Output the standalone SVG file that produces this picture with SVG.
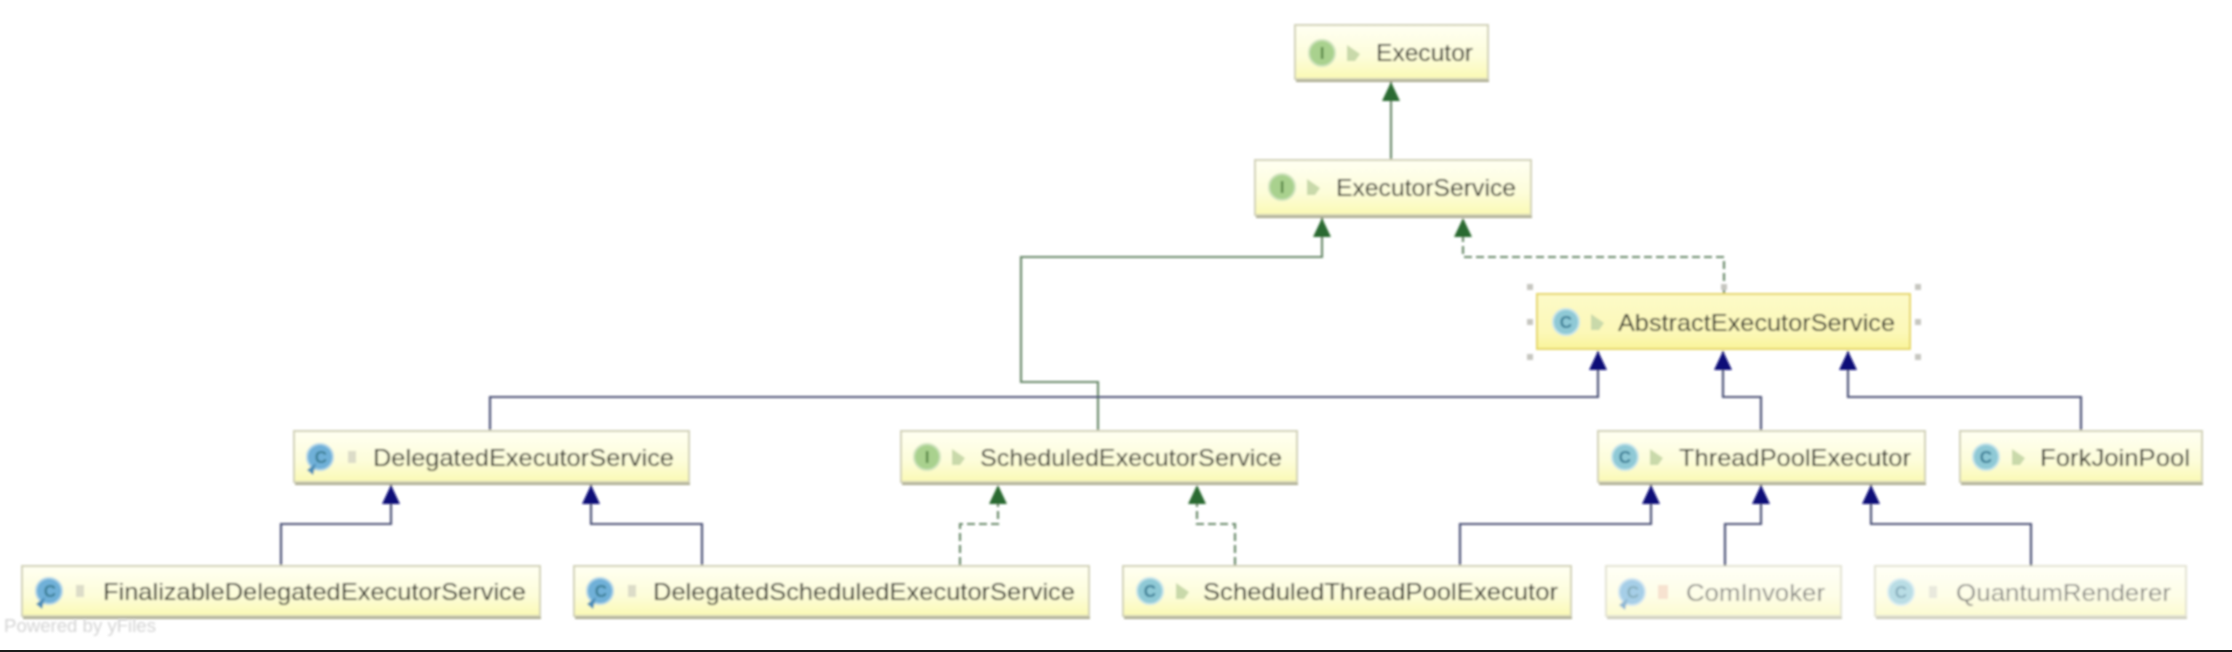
<svg xmlns="http://www.w3.org/2000/svg" width="2232" height="652" viewBox="0 0 2232 652">
<style>
.box{fill:url(#nodeFill);stroke:#d2d2b8;stroke-width:2}
.shadow{fill:#a8a88c}
.sel{fill:url(#selFill);stroke:#e6d768;stroke-width:2}
.label{font-family:"Liberation Sans",Arial,sans-serif;font-size:24px;fill:#34342a}
.wm{font-family:"Liberation Sans",Arial,sans-serif;font-size:19px;fill:#d4d4d4}
.glyph{font-family:"Liberation Sans",Arial,sans-serif;font-size:17px;font-weight:bold;text-anchor:middle}
.gi{fill:#5c8a4a}
.gc{fill:#3d7f96}
.ci{fill:#a9d18e;stroke:#cfe3bd;stroke-width:2}
.cc{fill:#8fc9d6;stroke:#c6e4ea;stroke-width:2}
.cb{fill:#6fb0d8;stroke:#b2d6e8;stroke-width:2}
.pub{fill:#c9d9aa}
.pkg{fill:#dcdcc8}
.lock{fill:#f2d0b4}
.tail{fill:#4f8fb8}
.conn{fill:none;stroke-width:2.2}
.g{stroke:#6a8a6c;marker-end:url(#ga)}
.b{stroke:#4f5478;marker-end:url(#ba)}
.d{stroke-dasharray:8 4}
.h{fill:#c6c6c0}
.faded{opacity:.62}
</style>
<defs>
<linearGradient id="nodeFill" x1="0" y1="0" x2="0" y2="1">
<stop offset="0" stop-color="#fffff2"/><stop offset=".6" stop-color="#fdfdd9"/><stop offset="1" stop-color="#fbf9b4"/>
</linearGradient>
<linearGradient id="selFill" x1="0" y1="0" x2="0" y2="1">
<stop offset="0" stop-color="#fdfac8"/><stop offset=".7" stop-color="#fcf8b8"/><stop offset="1" stop-color="#f9f49a"/>
</linearGradient>
<marker id="ga" markerUnits="userSpaceOnUse" markerWidth="19" markerHeight="18" refX="19" refY="9" orient="auto" viewBox="0 0 19 18">
<path d="M19 9L0 0V18Z" fill="#2b6a30"/>
</marker>
<marker id="ba" markerUnits="userSpaceOnUse" markerWidth="19" markerHeight="18" refX="19" refY="9" orient="auto" viewBox="0 0 19 18">
<path d="M19 9L0 0V18Z" fill="#0a0a78"/>
</marker>
<path id="pubIcon" d="M-6 -8L7 1L2 8H-6Z"/>
<filter id="soft" filterUnits="userSpaceOnUse" x="0" y="0" width="2232" height="652"><feGaussianBlur stdDeviation="0.9"/></filter>
<filter id="softer" filterUnits="userSpaceOnUse" x="0" y="600" width="300" height="52"><feGaussianBlur stdDeviation="1.2"/></filter>
</defs>
<rect width="2232" height="652" fill="#ffffff"/>
<g filter="url(#soft)">
<g id="connectors">
<path class="conn g" d="M1391 159V82"/>
<path class="conn g" d="M1098 430V382H1021V257H1322V218"/>
<path class="conn g d" d="M1724 293V257H1463V218"/>
<path class="conn b" d="M490 430V397H1598V351"/>
<path class="conn b" d="M1761 430V397H1723V351"/>
<path class="conn b" d="M2081 430V397H1848V351"/>
<path class="conn b" d="M281 565V524H391V485"/>
<path class="conn b" d="M702 565V524H591V485"/>
<path class="conn g d" d="M960 565V524H998V485"/>
<path class="conn g d" d="M1235 565V524H1197V485"/>
<path class="conn b" d="M1460 565V524H1651V485"/>
<path class="conn b" d="M1725 566V524H1761V485"/>
<path class="conn b" d="M2031 566V524H1871V485"/>
</g>
<g id="node-executor">
<rect class="shadow" x="1296" y="77" width="193" height="5"/>
<rect class="box" x="1295" y="25" width="193" height="54"/>
<circle class="ci" cx="1322" cy="53" r="13"/><text class="glyph gi" x="1322" y="59">I</text>
<use href="#pubIcon" class="pub" x="1353" y="53"/>
<text class="label" x="1376" y="61" textLength="97" lengthAdjust="spacingAndGlyphs">Executor</text>
</g>
<g id="node-executor-service">
<rect class="shadow" x="1256" y="213" width="276" height="5"/>
<rect class="box" x="1255" y="160" width="276" height="55"/>
<circle class="ci" cx="1282" cy="187" r="13"/><text class="glyph gi" x="1282" y="193">I</text>
<use href="#pubIcon" class="pub" x="1313" y="187"/>
<text class="label" x="1336" y="196" textLength="180" lengthAdjust="spacingAndGlyphs">ExecutorService</text>
</g>
<g id="node-abstract-executor-service">
<rect class="sel" x="1537" y="294" width="373" height="55"/>
<circle class="cc" cx="1566" cy="322" r="13"/><text class="glyph gc" x="1566" y="328">C</text>
<use href="#pubIcon" class="pub" x="1597" y="322"/>
<text class="label" x="1618" y="331" textLength="277" lengthAdjust="spacingAndGlyphs">AbstractExecutorService</text>
<g class="handles">
<rect class="h" x="1527" y="284" width="6" height="6"/><rect class="h" x="1721" y="284" width="6" height="6"/><rect class="h" x="1915" y="284" width="6" height="6"/>
<rect class="h" x="1527" y="319" width="6" height="6"/><rect class="h" x="1915" y="319" width="6" height="6"/>
<rect class="h" x="1527" y="354" width="6" height="6"/><rect class="h" x="1915" y="354" width="6" height="6"/>
</g>
</g>
<g id="node-delegated-executor-service">
<rect class="shadow" x="295" y="480" width="395" height="5"/>
<rect class="box" x="294" y="431" width="395" height="51"/>
<circle class="cb" cx="320" cy="457" r="13"/><path class="tail" d="M307 470L316 463L313 475Z"/><text class="glyph gc" x="321" y="463">C</text>
<rect class="pkg" x="348" y="451" width="8" height="12"/>
<text class="label" x="373" y="466" textLength="301" lengthAdjust="spacingAndGlyphs">DelegatedExecutorService</text>
</g>
<g id="node-scheduled-executor-service">
<rect class="shadow" x="902" y="480" width="396" height="5"/>
<rect class="box" x="901" y="431" width="396" height="51"/>
<circle class="ci" cx="927" cy="457" r="13"/><text class="glyph gi" x="927" y="463">I</text>
<use href="#pubIcon" class="pub" x="958" y="457"/>
<text class="label" x="980" y="466" textLength="302" lengthAdjust="spacingAndGlyphs">ScheduledExecutorService</text>
</g>
<g id="node-thread-pool-executor">
<rect class="shadow" x="1599" y="480" width="327" height="5"/>
<rect class="box" x="1598" y="431" width="327" height="51"/>
<circle class="cc" cx="1625" cy="457" r="13"/><text class="glyph gc" x="1625" y="463">C</text>
<use href="#pubIcon" class="pub" x="1656" y="457"/>
<text class="label" x="1679" y="466" textLength="232" lengthAdjust="spacingAndGlyphs">ThreadPoolExecutor</text>
</g>
<g id="node-fork-join-pool">
<rect class="shadow" x="1961" y="480" width="242" height="5"/>
<rect class="box" x="1960" y="431" width="242" height="51"/>
<circle class="cc" cx="1986" cy="457" r="13"/><text class="glyph gc" x="1986" y="463">C</text>
<use href="#pubIcon" class="pub" x="2018" y="457"/>
<text class="label" x="2040" y="466" textLength="150" lengthAdjust="spacingAndGlyphs">ForkJoinPool</text>
</g>
<g id="node-finalizable-delegated-executor-service">
<rect class="shadow" x="23" y="614" width="518" height="5"/>
<rect class="box" x="22" y="566" width="518" height="50"/>
<circle class="cb" cx="49" cy="591" r="13"/><path class="tail" d="M36 604L45 597L42 609Z"/><text class="glyph gc" x="50" y="597">C</text>
<rect class="pkg" x="76" y="585" width="8" height="12"/>
<text class="label" x="103" y="600" textLength="423" lengthAdjust="spacingAndGlyphs">FinalizableDelegatedExecutorService</text>
</g>
<g id="node-delegated-scheduled-executor-service">
<rect class="shadow" x="575" y="614" width="515" height="5"/>
<rect class="box" x="574" y="566" width="515" height="50"/>
<circle class="cb" cx="600" cy="591" r="13"/><path class="tail" d="M587 604L596 597L593 609Z"/><text class="glyph gc" x="601" y="597">C</text>
<rect class="pkg" x="628" y="585" width="8" height="12"/>
<text class="label" x="653" y="600" textLength="422" lengthAdjust="spacingAndGlyphs">DelegatedScheduledExecutorService</text>
</g>
<g id="node-scheduled-thread-pool-executor">
<rect class="shadow" x="1124" y="614" width="448" height="5"/>
<rect class="box" x="1123" y="566" width="448" height="50"/>
<circle class="cc" cx="1150" cy="591" r="13"/><text class="glyph gc" x="1150" y="597">C</text>
<use href="#pubIcon" class="pub" x="1182" y="591"/>
<text class="label" x="1203" y="600" textLength="355" lengthAdjust="spacingAndGlyphs">ScheduledThreadPoolExecutor</text>
</g>
<g id="node-com-invoker" class="faded">
<rect class="shadow" x="1607" y="614" width="235" height="5"/>
<rect class="box" x="1606" y="566" width="235" height="50"/>
<circle class="cb" cx="1632" cy="592" r="13"/><path class="tail" d="M1619 605L1628 598L1625 610Z"/><text class="glyph gc" x="1633" y="598">C</text>
<rect class="lock" x="1658" y="585" width="10" height="14"/>
<text class="label" x="1686" y="601" textLength="139" lengthAdjust="spacingAndGlyphs">ComInvoker</text>
</g>
<g id="node-quantum-renderer" class="faded">
<rect class="shadow" x="1876" y="614" width="311" height="5"/>
<rect class="box" x="1875" y="566" width="311" height="50"/>
<circle class="cc" cx="1901" cy="592" r="13"/><text class="glyph gc" x="1901" y="598">C</text>
<rect class="pkg" x="1929" y="586" width="8" height="12"/>
<text class="label" x="1956" y="601" textLength="215" lengthAdjust="spacingAndGlyphs">QuantumRenderer</text>
</g>
</g>
<text class="wm" x="4" y="632" textLength="152" lengthAdjust="spacingAndGlyphs" filter="url(#softer)">Powered by yFiles</text>
<rect x="0" y="650" width="2232" height="2" fill="#1c1c1c"/>
</svg>
